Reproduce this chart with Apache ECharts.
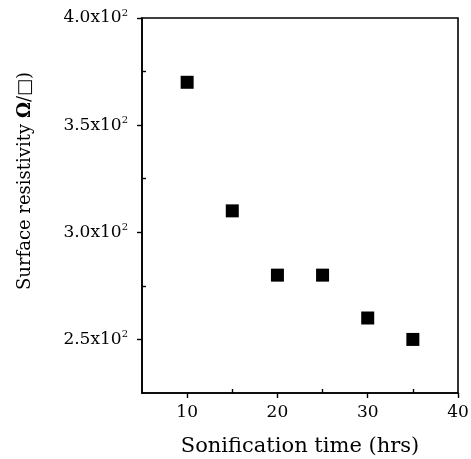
<!DOCTYPE html>
<html><head><meta charset="utf-8">
<script src="https://cdn.jsdelivr.net/npm/echarts@6/dist/echarts.min.js"></script>
<style>html,body{margin:0;padding:0;background:#fff}#c{width:471px;height:459px}</style>
</head><body><div id="c"></div>
<script>
const times = [10, 15, 20, 25, 30, 35];
const resistivity = [370, 310, 280, 280, 260, 250];
const xMajorTicks = [10, 20, 30, 40];
const xMinorTicks = [15, 25, 35];
const yMajorTicks = [250, 300, 350, 400];
const yMinorTicks = [275, 325, 375];
const xTitle = 'Sonification time (hrs)';
const yTitle = 'Surface resistivity {b|Ω}/□)';

const font = 'DejaVu Serif';
const chart = echarts.init(document.getElementById('c'));
chart.setOption({
  animation: false,
  grid: {left: 142, right: 13, top: 18, bottom: 66, containLabel: false, outerBoundsMode: 'none',
    show: true, borderColor: '#000', borderWidth: 1.6, backgroundColor: 'transparent'},
  graphic: [{
    type: 'text', x: 25, y: 181, rotation: Math.PI / 2,
    style: {
      text: yTitle, fill: '#000', font: '18px "DejaVu Serif"',
      align: 'center', verticalAlign: 'middle',
      rich: {b: {fontFamily: font, fontSize: 18, fontWeight: 'bold', fill: '#000'}}
    }
  }],
  xAxis: [{
    type: 'value', min: 5, max: 40, position: 'bottom',
    splitLine: {show: false},
    axisLine: {show: true, onZero: false, lineStyle: {color: '#000', width: 1.6}},
    axisTick: {show: true, inside: false, length: 5, customValues: xMajorTicks, lineStyle: {color: '#000', width: 1.4}},
    axisLabel: {customValues: xMajorTicks, color: '#000', fontFamily: font, fontSize: 17, margin: 11},
    name: xTitle, nameLocation: 'middle', nameGap: 43,
    nameTextStyle: {color: '#000', fontFamily: font, fontSize: 21}
  }, {
    type: 'value', min: 5, max: 40, position: 'bottom',
    splitLine: {show: false},
    axisLine: {show: false, onZero: false},
    axisTick: {show: true, inside: true, length: 4, customValues: xMinorTicks, lineStyle: {color: '#000', width: 1.4}},
    axisLabel: {show: false}
  }],
  yAxis: [{
    type: 'value', min: 225, max: 400, position: 'left',
    splitLine: {show: false},
    axisLine: {show: true, onZero: false, lineStyle: {color: '#000', width: 1.6}},
    axisTick: {show: true, inside: false, length: 5, customValues: yMajorTicks, lineStyle: {color: '#000', width: 1.4}},
    axisLabel: {
      customValues: yMajorTicks, color: '#000', fontFamily: font, fontSize: 17, margin: 14,
      formatter: v => '{a|' + (v / 100).toFixed(1) + 'x10}{s|2}',
      rich: {
        a: {fontFamily: font, fontSize: 17, color: '#000'},
        s: {fontFamily: font, fontSize: 10, color: '#000', padding: [0, 0, 10, 0]}
      }
    }
  }, {
    type: 'value', min: 225, max: 400, position: 'left',
    splitLine: {show: false},
    axisLine: {show: false, onZero: false},
    axisTick: {show: true, inside: true, length: 4, customValues: yMinorTicks, lineStyle: {color: '#000', width: 1.4}},
    axisLabel: {show: false}
  }],
  series: [{
    type: 'scatter', xAxisIndex: 0, yAxisIndex: 0,
    symbol: 'rect', symbolSize: 13,
    itemStyle: {color: '#000', opacity: 1},
    data: times.map((t, i) => [t, resistivity[i]])
  }]
});
</script></body></html>
